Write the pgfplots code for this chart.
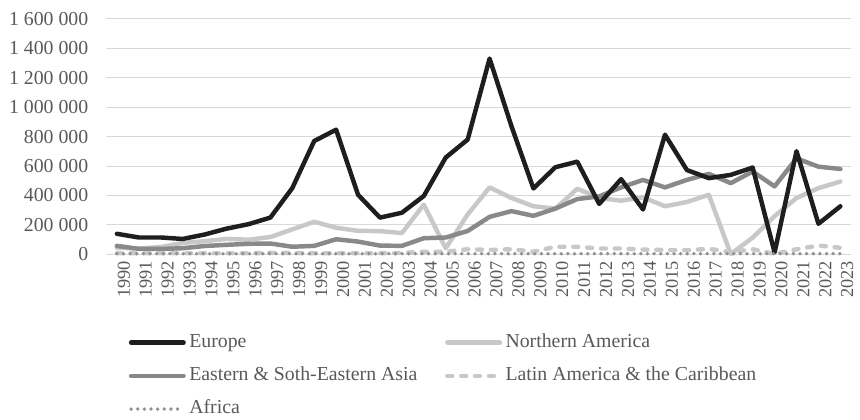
\documentclass[border=0pt]{standalone}
\usepackage{pgfplots}
\pgfplotsset{compat=1.18}
\usetikzlibrary{calc}
\usepackage{fontspec}
\setmainfont{Liberation Serif}
\definecolor{eur}{RGB}{30,30,30}
\definecolor{nam}{RGB}{200,200,200}
\definecolor{asia}{RGB}{137,137,137}
\definecolor{lat}{RGB}{200,200,200}
\definecolor{afr}{RGB}{145,145,145}
\definecolor{gridc}{RGB}{217,217,217}
\definecolor{tickc}{RGB}{89,89,89}
\pgfplotstableread{
year europe na asia latam africa
1990 140000 45000 58000 8000 5000
1991 115000 40000 38000 8000 5000
1992 115000 50000 37000 8000 5000
1993 105000 78000 42000 8000 5000
1994 135000 90000 57000 8000 5000
1995 175000 105000 65000 8000 5000
1996 205000 100000 72000 8000 5000
1997 250000 118000 74000 10000 5000
1998 450000 170000 52000 10000 5000
1999 770000 222000 58000 8000 5000
2000 847000 181000 103000 8000 5000
2001 405000 160000 87000 8000 5000
2002 250000 158000 60000 8000 5000
2003 283000 145000 58000 10000 5000
2004 397000 338000 110000 18000 5000
2005 658000 42000 115000 18000 5000
2006 780000 271000 159000 35000 5000
2007 1330000 455000 255000 30000 5000
2008 870000 383000 294000 35000 5000
2009 448000 327000 262000 18000 5000
2010 592000 311000 311000 52000 5000
2011 630000 446000 376000 52000 5000
2012 343000 383000 394000 40000 5000
2013 511000 365000 455000 40000 5000
2014 305000 388000 506000 33000 5000
2015 813000 327000 455000 30000 5000
2016 573000 356000 506000 28000 5000
2017 518000 405000 547000 38000 5000
2018 540000 3000 484000 15000 5000
2019 590000 114000 563000 35000 5000
2020 13000 260000 462000 3000 5000
2021 701000 383000 652000 35000 5000
2022 208000 450000 596000 60000 5000
2023 327000 495000 580000 45000 5000
}\datatable
\begin{document}
\fontsize{20bp}{24bp}\selectfont
\begin{tikzpicture}
\begin{axis}[
  scale only axis, width=753bp, height=238bp,
  xmin=1989.5, xmax=2023.5, ymin=0, ymax=1600000,
  clip=false,
  axis line style={draw=none},
  major tick length=0pt,
  ymajorgrids,
  grid style={draw=gridc, line width=1bp},
  xtick={1990,...,2023},
  ytick={0,200000,400000,600000,800000,1000000,1200000,1400000,1600000},
  scaled y ticks=false,
  /pgf/number format/assume math mode=true,
  yticklabel style={/pgf/number format/.cd, fixed, 1000 sep={\ }, /tikz/.cd,
    font=\fontsize{20bp}{24bp}\selectfont, text=tickc, xshift=-11bp},
  xticklabel style={/pgf/number format/.cd, 1000 sep={}, /tikz/.cd,
    rotate=90, anchor=east, font=\fontsize{18.5bp}{22bp}\selectfont, text=tickc, yshift=-7bp},
  legend columns=2,
  legend cell align=left,
  legend style={at={(axis description cs:0,0)}, anchor=north west, draw=none, fill=none,
    xshift=23bp, yshift=-78bp, inner sep=0pt,
    font=\fontsize{20bp}{24bp}\selectfont, text=tickc,
    nodes={text height=14bp, text depth=4bp, inner ysep=2bp, inner xsep=3.5bp},
    /tikz/every even column/.append style={column sep=24.5bp},
    row sep=11.5bp},
  legend image code/.code={\draw[#1] (0bp,0bp) -- (53bp,0bp);},
]
\addlegendimage{eur, line width=4.5bp, line cap=round}
\addlegendentry{Europe}
\addlegendimage{nam, line width=4.5bp, line cap=round}
\addlegendentry{Northern America}
\addlegendimage{asia, line width=4.5bp, line cap=round}
\addlegendentry{Eastern \& Soth-Eastern Asia}
\addlegendimage{lat, line width=4.5bp, line cap=round, dash pattern=on 5bp off 9bp}
\addlegendentry{Latin America \& the Caribbean}
\addlegendimage{afr, line width=3.8bp, line cap=round, dash pattern=on 0bp off 6.7bp}
\addlegendentry{Africa}

\addplot[forget plot, nam, line width=4.5bp, line join=round, line cap=round] table[x=year, y=na] {\datatable};
\addplot[forget plot, asia, line width=4.5bp, line join=round, line cap=round] table[x=year, y=asia] {\datatable};
\addplot[forget plot, lat, line width=4.5bp, line join=round, line cap=round, dash pattern=on 5bp off 9bp] table[x=year, y=latam] {\datatable};
\addplot[forget plot, eur, line width=4.5bp, line join=round, line cap=round] table[x=year, y=europe] {\datatable};
\addplot[forget plot, afr, line width=3.8bp, line cap=round, dash pattern=on 0bp off 6.7bp] table[x=year, y=africa] {\datatable};
\path[use as bounding box] ($(rel axis cs:0,0)+(-107bp,-158bp)$) rectangle ($(rel axis cs:1,1)+(0bp,19bp)$);
\end{axis}
\end{tikzpicture}
\end{document}
